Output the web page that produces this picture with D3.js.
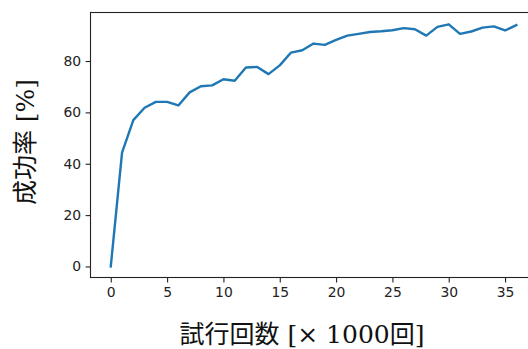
<!DOCTYPE html>
<html>
<head>
<meta charset="utf-8">
<script src="https://cdn.jsdelivr.net/npm/d3@7"></script>
<style>
  html, body { margin: 0; padding: 0; background: #fff; }
  svg { display: block; }
</style>
</head>
<body>
<svg id="chart" width="528" height="349"></svg>
<script>
// Data (x in thousands of trials, y = success rate %)
const trials = [0,1,2,3,4,5,6,7,8,9,10,11,12,13,14,15,16,17,18,19,20,21,22,23,24,25,26,27,28,29,30,31,32,33,34,35,36];
const successRate = [0,44.3,57.0,61.8,64.1,64.1,62.7,67.8,70.2,70.5,72.9,72.3,77.5,77.7,74.9,78.3,83.3,84.2,86.8,86.3,88.2,89.9,90.6,91.3,91.6,92.0,92.8,92.4,89.9,93.3,94.3,90.6,91.5,93.0,93.5,91.9,94.0];
const xTicks = [0,5,10,15,20,25,30,35];
const yTicks = [0,20,40,60,80];
const xLabelCJK = "試行回数";
const xLabelRest = " [× 1000";
const xLabelUnit = "回";
const yLabelCJK = "成功率";
const yLabelRest = " [%]";

const svg = d3.select("#chart");
const pLeft = 90.5, pRight = 536.6, pTop = 12.5, pBottom = 277.5;

const x = d3.scaleLinear().domain([-1.8, 37.8]).range([pLeft, pRight]);
const y = d3.scaleLinear().domain([-4.3, 98.9]).range([pBottom, pTop]);

const tickFont = "DejaVu Sans, sans-serif";

// line
const line = d3.line().x((d, i) => x(trials[i])).y(d => y(d));
svg.append("path")
  .datum(successRate)
  .attr("d", line)
  .attr("fill", "none")
  .attr("stroke", "#1f77b4")
  .attr("stroke-width", 2.4)
  .attr("stroke-linejoin", "round")
  .attr("stroke-linecap", "square");

// axes
const xAxis = d3.axisBottom(x).tickValues(xTicks).tickSizeInner(4.9).tickSizeOuter(0).tickPadding(4.5);
const yAxis = d3.axisLeft(y).tickValues(yTicks).tickSizeInner(4.9).tickSizeOuter(0).tickPadding(4.5);

const gx = svg.append("g").attr("transform", `translate(0,${pBottom})`).call(xAxis);
const gy = svg.append("g").attr("transform", `translate(${pLeft},0)`).call(yAxis);
[gx, gy].forEach(g => {
  g.select(".domain").remove();
  g.selectAll(".tick line").attr("stroke", "#222").attr("stroke-width", 1.1);
  g.selectAll(".tick text").attr("fill", "#222").style("font-family", tickFont).style("font-size", "13.9px");
});

// frame (spines)
svg.append("rect")
  .attr("x", pLeft).attr("y", pTop)
  .attr("width", pRight - pLeft).attr("height", pBottom - pTop)
  .attr("fill", "none").attr("stroke", "#222").attr("stroke-width", 1.1);

// x label
const xl = svg.append("text")
  .attr("x", 302).attr("y", 343)
  .attr("text-anchor", "middle")
  .attr("fill", "#111")
  .style("font-size", "25px");
xl.append("tspan").style("font-family", "Noto Sans CJK JP").text(xLabelCJK);
xl.append("tspan").style("font-family", "DejaVu Serif").text(xLabelRest);
xl.append("tspan").style("font-family", "Noto Sans CJK JP").text(xLabelUnit);
xl.append("tspan").style("font-family", "DejaVu Serif").text("]");

// y label
const yl = svg.append("text")
  .attr("transform", "translate(34,142) rotate(-90)")
  .attr("text-anchor", "middle")
  .attr("fill", "#111")
  .style("font-size", "25px");
yl.append("tspan").style("font-family", "Noto Sans CJK JP").text(yLabelCJK);
yl.append("tspan").style("font-family", "DejaVu Serif").text(yLabelRest);
</script>
</body>
</html>
